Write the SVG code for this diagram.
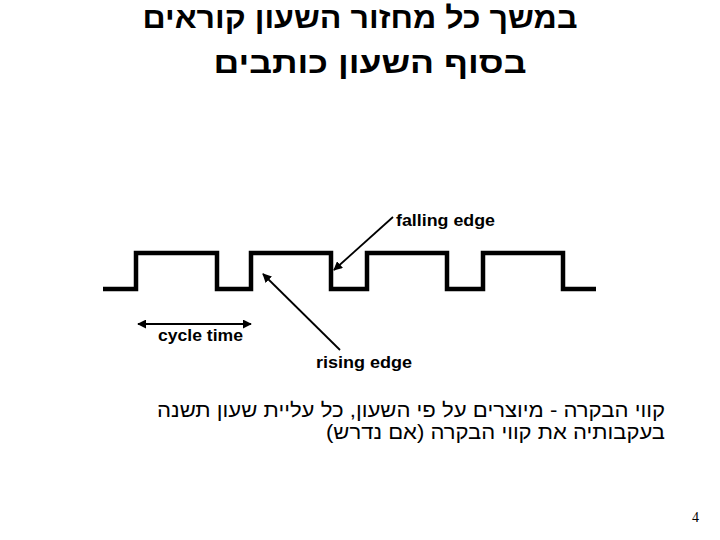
<svg xmlns="http://www.w3.org/2000/svg" width="720" height="540" viewBox="0 0 720 540">
<style>
  .title { font-family: "Liberation Sans", "DejaVu Sans", sans-serif; font-weight: bold; font-size: 30px; fill: #000; }
  .body { font-family: "Liberation Sans", "DejaVu Sans", sans-serif; font-size: 20px; fill: #000; }
  .lbl { font-family: "Liberation Sans", Arial, sans-serif; font-weight: bold; font-size: 16px; fill: #000; }
  .wave { fill: none; stroke: #000; stroke-width: 4.5; stroke-linejoin: miter; stroke-linecap: butt; }
  .arr { fill: none; stroke: #000; stroke-width: 1.8; }
  .num { font-family: "Liberation Serif", "Times New Roman", serif; font-size: 14px; fill: #000; }
</style>
<defs>
  <marker id="ah" viewBox="0 0 10 10" refX="9" refY="5" markerWidth="5" markerHeight="5" orient="auto-start-reverse" markerUnits="strokeWidth">
    <path d="M0,0 L10,5 L0,10 z" fill="#000"/>
  </marker>
</defs>
<rect width="720" height="540" fill="#fff"/>
<g id="title">
  <text class="title" x="360" y="28" text-anchor="middle" direction="rtl" textLength="435" lengthAdjust="spacingAndGlyphs">במשך כל מחזור השעון קוראים</text>
  <text class="title" x="370" y="73" text-anchor="middle" direction="rtl" textLength="313" lengthAdjust="spacingAndGlyphs">בסוף השעון כותבים</text>
</g>
<g id="clock">
  <polyline class="wave" points="103,289 136,289 136,253 217,253 217,289 251,289 251,253 331,253 331,289 367,289 367,253 447,253 447,289 483,289 483,253 563,253 563,289 596,289"/>
</g>
<g id="connectors">
  <line class="arr" x1="393" y1="217" x2="334" y2="270" marker-end="url(#ah)"/>
  <line class="arr" x1="340" y1="350" x2="263" y2="274" marker-end="url(#ah)"/>
  <line class="arr" x1="138" y1="324" x2="251" y2="324" marker-start="url(#ah)" marker-end="url(#ah)"/>
</g>
<g id="falling-edge">
  <text class="lbl" x="396" y="226" textLength="99" lengthAdjust="spacingAndGlyphs">falling edge</text>
</g>
<g id="rising-edge">
  <text class="lbl" x="316" y="368" textLength="96" lengthAdjust="spacingAndGlyphs">rising edge</text>
</g>
<g id="cycle-time">
  <text class="lbl" x="158" y="341" textLength="85" lengthAdjust="spacingAndGlyphs">cycle time</text>
</g>
<g id="note">
  <text class="body" x="665" y="417" text-anchor="start" direction="rtl" textLength="508" lengthAdjust="spacingAndGlyphs">קווי הבקרה - מיוצרים על פי השעון, כל עליית שעון תשנה</text>
  <text class="body" x="665" y="439" text-anchor="start" direction="rtl" textLength="339" lengthAdjust="spacingAndGlyphs">בעקבותיה את קווי הבקרה (אם נדרש)</text>
</g>
<g id="page-number">
  <text class="num" x="692" y="522">4</text>
</g>
</svg>
